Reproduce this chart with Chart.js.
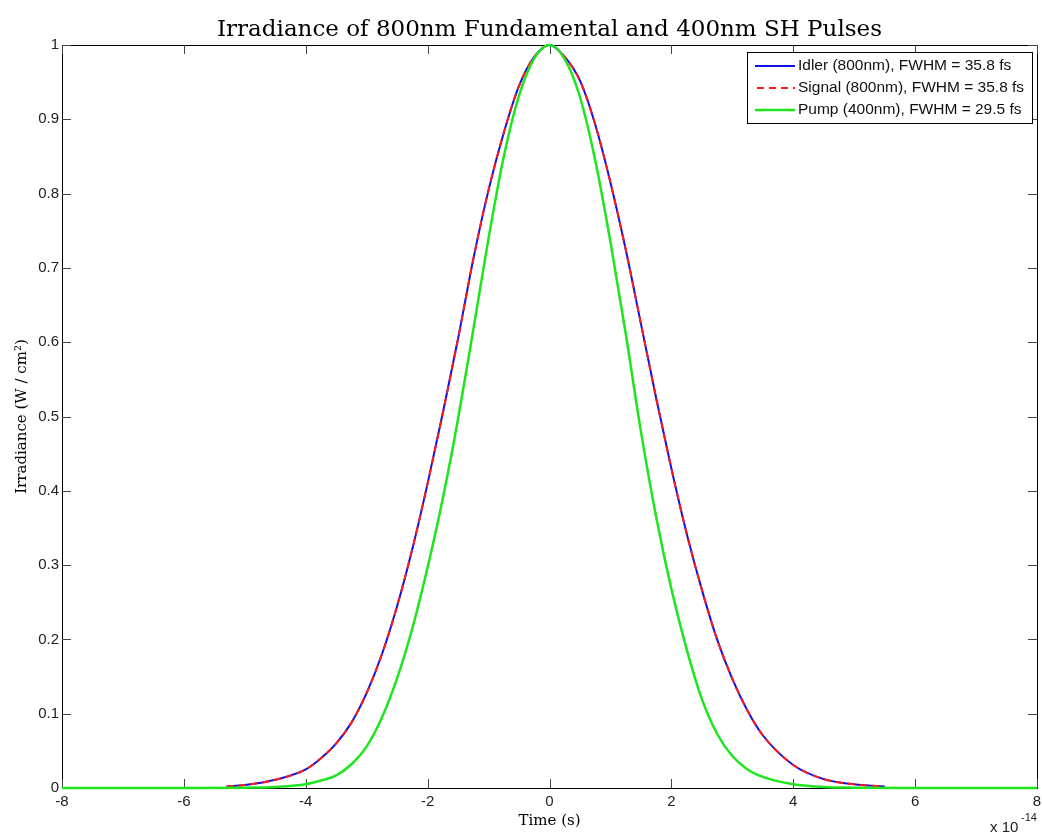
<!DOCTYPE html>
<html>
<head>
<meta charset="utf-8">
<script src="https://cdn.jsdelivr.net/npm/chart.js@4.4.1/dist/chart.umd.min.js"></script>
<style>
  html, body { margin: 0; padding: 0; background: #fff; }
</style>
</head>
<body>
<canvas id="irr" width="1042" height="834"></canvas>
<script>
// time in units of 1e-14 s, irradiance normalised
const idlerTime = [-5.3, -5, -4.5, -4, -3.75, -3.5, -3.25, -3, -2.75, -2.5, -2.25, -2, -1.75, -1.5, -1.25, -1, -0.75, -0.5, -0.25, 0,
                   0.25, 0.5, 0.75, 1, 1.25, 1.5, 1.75, 2, 2.25, 2.5, 2.75, 3, 3.25, 3.5, 4, 4.5, 5, 5.5];
const idlerValue = [0.002, 0.004, 0.011, 0.025, 0.04, 0.06, 0.088, 0.128, 0.18, 0.245, 0.322, 0.41, 0.505, 0.605, 0.712, 0.805, 0.882, 0.945, 0.984, 1.0,
                    0.984, 0.952, 0.893, 0.815, 0.725, 0.625, 0.525, 0.43, 0.343, 0.267, 0.2, 0.147, 0.104, 0.071, 0.031, 0.012, 0.005, 0.002];
const signalTime = idlerTime;
const signalValue = idlerValue;
const pumpTime = [-8, -6, -5, -4.5, -4, -3.75, -3.5, -3.25, -3, -2.75, -2.5, -2.25, -2, -1.75, -1.5, -1.25, -1, -0.75, -0.5, -0.25, 0,
                  0.25, 0.5, 0.75, 1, 1.25, 1.5, 1.75, 2, 2.25, 2.5, 2.75, 3, 3.25, 3.5, 4, 4.5, 5, 6, 8];
const pumpValue = [0, 0, 0.0005, 0.0015, 0.005, 0.01, 0.017, 0.032, 0.056, 0.095, 0.148, 0.215, 0.297, 0.39, 0.497, 0.617, 0.74, 0.85, 0.932, 0.982, 1.0,
                   0.981, 0.93, 0.845, 0.735, 0.612, 0.48, 0.365, 0.268, 0.187, 0.12, 0.073, 0.043, 0.025, 0.015, 0.005, 0.0015, 0.0005, 0, 0];
const seriesLabels = ['Idler (800nm), FWHM = 35.8 fs', 'Signal (800nm), FWHM = 35.8 fs', 'Pump (400nm), FWHM = 29.5 fs'];

const toPts = (xs, ys) => xs.map((x, i) => ({ x: x, y: ys[i] }));

// MATLAB style: box, inward ticks on all four sides
const boxTicks = {
  id: 'boxTicks',
  beforeDatasetsDraw(chart) {
    const { ctx, chartArea: a, scales: { x, y } } = chart;
    ctx.save();
    ctx.strokeStyle = '#000';
    ctx.lineWidth = 1;
    ctx.strokeRect(Math.round(a.left) + 0.5, Math.round(a.top) + 0.5,
                   Math.round(a.right - a.left), Math.round(a.bottom - a.top));
    ctx.strokeStyle = '#444';
    ctx.beginPath();
    x.ticks.forEach(t => {
      const px = Math.round(x.getPixelForValue(t.value)) + 0.5;
      ctx.moveTo(px, a.bottom); ctx.lineTo(px, a.bottom - 9);
      ctx.moveTo(px, a.top); ctx.lineTo(px, a.top + 9);
    });
    y.ticks.forEach(t => {
      const py = Math.round(y.getPixelForValue(t.value)) + 0.5;
      ctx.moveTo(a.left, py); ctx.lineTo(a.left + 9, py);
      ctx.moveTo(a.right, py); ctx.lineTo(a.right - 9, py);
    });
    ctx.stroke();
    ctx.restore();
  },
  afterDraw(chart) {
    const { ctx, chartArea: a } = chart;
    ctx.save();
    // title
    ctx.fillStyle = '#000';
    ctx.font = '23px "DejaVu Serif"';
    ctx.textAlign = 'center';
    ctx.textBaseline = 'alphabetic';
    ctx.fillText('Irradiance of 800nm Fundamental and 400nm SH Pulses', (a.left + a.right) / 2, 36);
    // exponent label
    ctx.fillStyle = '#222';
    ctx.textAlign = 'left';
    ctx.font = '15px "Liberation Sans"';
    ctx.fillText('x 10', 990, 832);
    ctx.font = '11px "Liberation Sans"';
    ctx.fillText('-14', 1021, 821);

    // legend
    const bx = 747.5, by = 52.5, bw = 285, bh = 71;
    ctx.fillStyle = '#fff';
    ctx.fillRect(bx, by, bw, bh);
    ctx.strokeStyle = '#000';
    ctx.lineWidth = 1;
    ctx.strokeRect(bx, by, bw, bh);
    ctx.font = '15.5px "Liberation Sans"';
    ctx.textBaseline = 'middle';
    chart.data.datasets.forEach((ds, i) => {
      const ry = 66 + i * 22;
      ctx.strokeStyle = ds.borderColor;
      ctx.lineWidth = ds.borderWidth;
      ctx.setLineDash(ds.borderDash || []);
      ctx.beginPath();
      ctx.moveTo(i === 1 ? 757 : 755, ry); ctx.lineTo(795, ry);
      ctx.stroke();
      ctx.setLineDash([]);
      ctx.fillStyle = '#111';
      ctx.fillText(ds.label, 798, ry);
    });
    ctx.restore();
  }
};

new Chart(document.getElementById('irr'), {
  type: 'line',
  data: {
    datasets: [{
      label: seriesLabels[0],
      data: toPts(idlerTime, idlerValue),
      borderColor: '#1010e8',
      borderWidth: 2,
      order: 3
    }, {
      label: seriesLabels[1],
      data: toPts(signalTime, signalValue),
      borderColor: '#ff1a1a',
      borderWidth: 2,
      borderDash: [7, 5],
      order: 2
    }, {
      label: seriesLabels[2],
      data: toPts(pumpTime, pumpValue),
      borderColor: '#1ee61e',
      borderWidth: 2.5,
      order: 1
    }]
  },
  options: {
    responsive: false,
    animation: false,
    devicePixelRatio: 1,
    layout: { padding: { top: 45, right: 5, left: 0, bottom: 0 } },
    elements: {
      point: { radius: 0 },
      line: { cubicInterpolationMode: 'monotone', fill: false }
    },
    datasets: { line: { clip: 4 } },
    plugins: {
      legend: { display: false },
      title: { display: false },
      tooltip: { enabled: false }
    },
    scales: {
      x: {
        type: 'linear',
        min: -8, max: 8,
        ticks: { stepSize: 2, padding: 5, color: '#222', font: { family: 'Liberation Sans', size: 15 } },
        grid: { drawOnChartArea: false, drawTicks: false },
        border: { display: false },
        title: { display: true, text: 'Time (s)', color: '#000', font: { family: 'DejaVu Serif', size: 15 }, padding: { top: 0, bottom: 4 } },
        afterFit(s) { s.height = 46; s.paddingLeft = 0; s.paddingRight = 0; }
      },
      y: {
        min: 0, max: 1,
        ticks: {
          stepSize: 0.1, padding: 3, color: '#222', font: { family: 'Liberation Sans', size: 15 },
          callback: v => String(Number(v.toFixed(1)))
        },
        grid: { drawOnChartArea: false, drawTicks: false },
        border: { display: false },
        title: { display: true, text: 'Irradiance (W / cm²)', color: '#000', font: { family: 'DejaVu Serif', size: 15 }, padding: { top: 13, bottom: 0 } },
        afterFit(s) { s.width = 62; s.paddingTop = 0; s.paddingBottom = 0; }
      }
    }
  },
  plugins: [boxTicks]
});
</script>
</body>
</html>
